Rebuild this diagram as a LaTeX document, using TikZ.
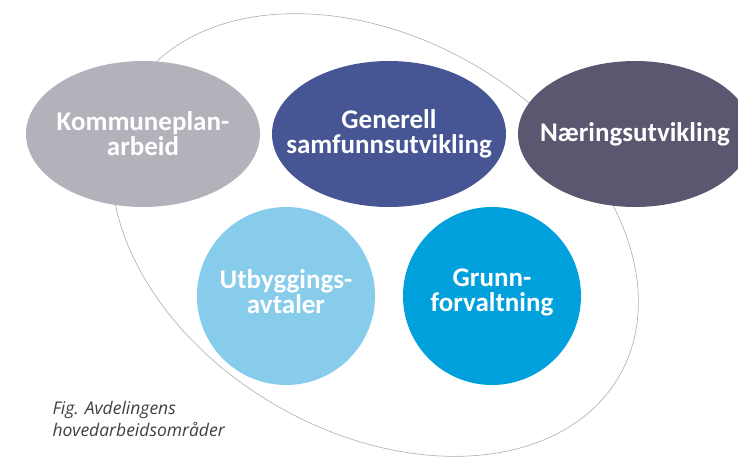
\documentclass[tikz,border=0pt]{standalone}
\usepackage{fontspec}
\setmainfont{Carlito}
\newfontfamily\capfont{Open Sans}
\usetikzlibrary{shapes.geometric}
\definecolor{kommunegray}{RGB}{179,178,187}
\definecolor{generellblue}{RGB}{70,86,148}
\definecolor{naeringgray}{RGB}{90,88,112}
\definecolor{utbyggingblue}{RGB}{135,204,234}
\definecolor{grunnblue}{RGB}{0,160,220}
\begin{document}
\begin{tikzpicture}[x=1pt, y=1pt,
        area/.style={ellipse, minimum width=234pt, minimum height=146pt, inner sep=0pt},
        disc/.style={circle, minimum size=178pt, inner sep=0pt},
        lbl/.style={text=white, align=center, font=\fontsize{27}{25}\selectfont\bfseries}]
                \useasboundingbox (0,0) rectangle (738,456);
                % outline round all areas
                \draw[line width=0.6pt, gray!65, rotate around={-30:(375,221)}] (375,221) ellipse [x radius=282, y radius=197];
                \node[area, fill=kommunegray, label={[lbl]center:Kommuneplan-\\arbeid}] (kommune) at (143,322) {};
                \node[area, fill=generellblue, label={[lbl]center:Generell\\samfunnsutvikling}] (generell) at (389,322) {};
                \node[area, fill=naeringgray, label={[lbl]center:Næringsutvikling}] (naering) at (635,322) {};
                \node[disc, fill=utbyggingblue, label={[lbl, yshift=4pt]center:Utbyggings-\\avtaler}] (utbygging) at (286,160) {};
                \node[disc, fill=grunnblue, label={[lbl, yshift=4pt]center:Grunn-\\forvaltning}] (grunn) at (492,160) {};
                \node[anchor=north west, align=left, text=black!75, font=\capfont\itshape\fontsize{17.5}{22}\selectfont] (caption) at (49,58) {Fig. Avdelingens\\hovedarbeidsområder};
\end{tikzpicture}
\end{document}
